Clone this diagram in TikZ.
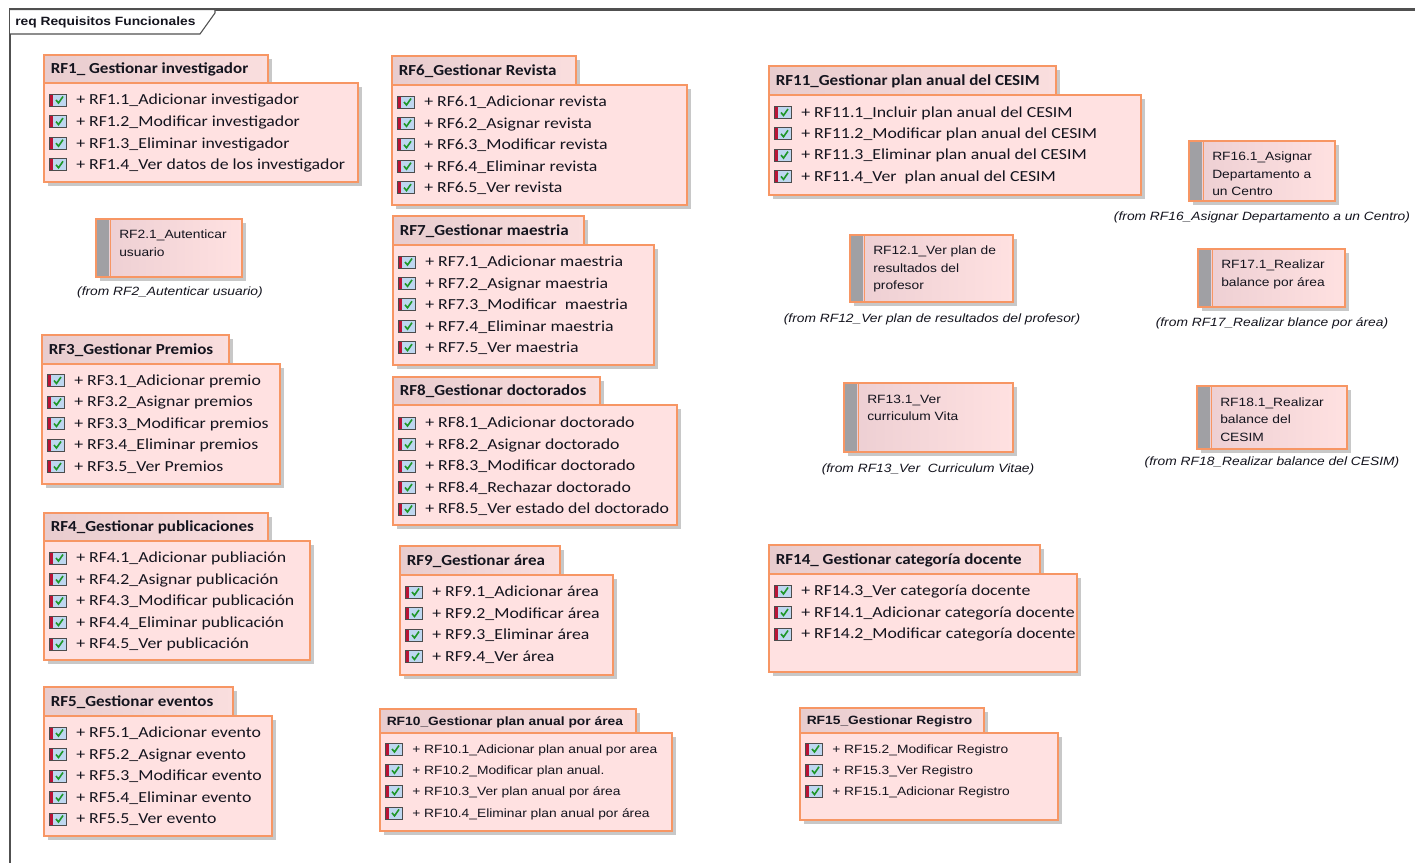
\documentclass[tikz,border=0pt]{standalone}
\usepackage{fontspec}
\newfontfamily\calr[FakeStretch=1.16]{Carlito}
\newfontfamily\calt[FakeStretch=1.11]{Carlito}
\newfontfamily\arir[FakeStretch=1.15]{Liberation Sans}

\definecolor{orng}{RGB}{247,150,100}
\definecolor{pinkbody}{RGB}{255,225,225}
\definecolor{tableft}{RGB}{232,204,206}
\definecolor{tabright}{RGB}{250,222,222}
\definecolor{elemleft}{RGB}{236,206,210}
\definecolor{shadowc}{RGB}{200,200,200}
\definecolor{barc}{RGB}{160,160,164}
\definecolor{txt}{RGB}{20,20,30}
\definecolor{framec}{RGB}{80,80,80}
\definecolor{chkblue}{RGB}{190,215,240}
\definecolor{chkred}{RGB}{185,20,55}
\definecolor{chkgreen}{RGB}{30,150,40}

\tikzset{
  x=0.75pt, y=-0.75pt,
  outline/.style={draw=orng, line width=1.3pt},
  ttlC/.style={font=\calt\bfseries\fontsize{11.5}{13}\selectfont, text=txt, inner sep=0pt, text height=7.3pt, text depth=0pt},
  ttlA/.style={font=\arir\bfseries\fontsize{9}{11}\selectfont, text=txt, inner sep=0pt, text height=6.45pt, text depth=0pt},
  itmC/.style={font=\calr\fontsize{11.5}{13}\selectfont, text=txt, inner sep=0pt, text height=7.3pt, text depth=0pt},
  itmA/.style={font=\arir\fontsize{9}{11}\selectfont, text=txt, inner sep=0pt, text height=6.45pt, text depth=0pt},
  eltxt/.style={font=\arir\fontsize{9}{11}\selectfont, text=txt, inner sep=0pt, anchor=base west},
  capt/.style={font=\arir\itshape\fontsize{9}{11}\selectfont, text=txt, inner sep=0pt},
}

% requirement check icon: x = left edge, y = vertical centre
\newcommand\ChkIcon[2]{%
  \fill[chkblue] (#1,#2-6) rectangle (#1+17,#2+6);
  \fill[chkred] (#1,#2-6) rectangle (#1+3.5,#2+6);
  \draw[black!70, line width=0.6pt] (#1,#2-6) rectangle (#1+17,#2+6);
  \draw[chkgreen, line width=1.2pt] (#1+7,#2) -- (#1+9.5,#2+3) -- (#1+14,#2-3.5);
}

% package: name, font kind, x1, tab top, tab right, body top, body right, body bottom, title
\newcommand\Pkg[9]{%
  \fill[shadowc] (#3+4,#4+4) rectangle (#5+4,#6+4);
  \fill[shadowc] (#3+4,#6+4) rectangle (#7+4,#8+4);
  \shade[left color=tableft, right color=tabright] (#3,#4) rectangle (#5,#6);
  \draw[outline] (#3,#4) rectangle (#5,#6);
  \node[ttl#2, anchor=west] (#1) at (#3+6.5,{(#4+#6)/2}) {#9};
  \fill[pinkbody] (#3,#6) rectangle (#7,#8);
  \draw[outline] (#3,#6) rectangle (#7,#8);
}

% package contents: name, font kind, x1, first row centre, row pitch, rows
\newcommand\Items[6]{%
  \foreach \entry [count=\k] in {#6} {
    \ChkIcon{#3+5}{#4+#5*\k-#5}
    \node[itm#2, anchor=west] (#1-\k) at (#3+32,#4+#5*\k-#5) {+ \entry};
  }
}

% requirement element: name, x1, y1, x2, y2, lines, caption x, caption y, caption
\newcommand\Elem[9]{%
  \fill[shadowc] (#2+4,#3+4) rectangle (#4+4,#5+4);
  \shade[left color=elemleft, right color=pinkbody] (#2,#3) rectangle (#4,#5);
  \fill[barc] (#2,#3) rectangle (#2+13,#5);
  \draw[orng, line width=1.3pt] (#2+14.5,#3) -- (#2+14.5,#5);
  \draw[outline] (#2,#3) rectangle (#4,#5);
  \foreach \ln [count=\k] in {#6} {
    \node[eltxt] (#1-\k) at (#2+23,#3+20+17.5*\k-17.5) {\ln};
  }
  \node[capt] (#1-cap) at (#7,#8) {#9};
}

\begin{document}
\begin{tikzpicture}
\useasboundingbox (0,0) rectangle (1415,863);
\fill[white] (0,0) rectangle (1415,863);

% diagram frame and its heading
\draw[framec, line width=1.6pt] (10,863) -- (10,9.5) -- (1415,9.5);
\draw[framec, fill=white, line width=0.8pt] (10,9.5) -- (215,9.5) -- (215,13) -- (200,34) -- (10,34);
\node[ttlA, anchor=west] (frame) at (15,21.5) {req Requisitos Funcionales};

% column 1
\Pkg{rf1}{C}{44}{55}{268}{83}{358}{182}{RF1\_ Gestionar investigador}
\Items{rf1}{C}{44}{100}{21.6}{RF1.1\_Adicionar investigador, RF1.2\_Modificar investigador, RF1.3\_Eliminar investigador, RF1.4\_Ver datos de los investigador}

\Elem{rf21}{96}{219}{242}{277}{RF2.1\_Autenticar, usuario}{170}{292}{(from RF2\_Autenticar usuario)}

\Pkg{rf3}{C}{42}{335}{229}{364}{280}{484}{RF3\_Gestionar Premios}
\Items{rf3}{C}{42}{380.5}{21.5}{RF3.1\_Adicionar premio, RF3.2\_Asignar premios, RF3.3\_Modificar premios, RF3.4\_Eliminar premios, RF3.5\_Ver Premios}

\Pkg{rf4}{C}{44}{513}{268}{541}{310}{660}{RF4\_Gestionar publicaciones}
\Items{rf4}{C}{44}{558}{21.5}{RF4.1\_Adicionar publiación, RF4.2\_Asignar publicación, RF4.3\_Modificar publicación, RF4.4\_Eliminar publicación, RF4.5\_Ver publicación}

\Pkg{rf5}{C}{44}{687}{233}{716}{272}{836}{RF5\_Gestionar eventos}
\Items{rf5}{C}{44}{733}{21.5}{RF5.1\_Adicionar evento, RF5.2\_Asignar evento, RF5.3\_Modificar evento, RF5.4\_Eliminar evento, RF5.5\_Ver evento}

% column 2
\Pkg{rf6}{C}{392}{56}{576}{85}{687}{205}{RF6\_Gestionar Revista}
\Items{rf6}{C}{392}{102}{21.4}{RF6.1\_Adicionar revista, RF6.2\_Asignar revista, RF6.3\_Modificar revista, RF6.4\_Eliminar revista, RF6.5\_Ver revista}

\Pkg{rf7}{C}{393}{216}{584}{245}{654}{365}{RF7\_Gestionar maestria}
\Items{rf7}{C}{393}{262}{21.4}{RF7.1\_Adicionar maestria, RF7.2\_Asignar maestria, RF7.3\_Modificar~ maestria, RF7.4\_Eliminar maestria, RF7.5\_Ver maestria}

\Pkg{rf8}{C}{393}{377}{600}{405}{677}{525}{RF8\_Gestionar doctorados}
\Items{rf8}{C}{393}{423}{21.5}{RF8.1\_Adicionar doctorado, RF8.2\_Asignar doctorado, RF8.3\_Modificar doctorado, RF8.4\_Rechazar doctorado, RF8.5\_Ver estado del doctorado}

\Pkg{rf9}{C}{400}{546}{560}{575}{613}{675}{RF9\_Gestionar área}
\Items{rf9}{C}{400}{592}{21.5}{RF9.1\_Adicionar área, RF9.2\_Modificar área, RF9.3\_Eliminar área, RF9.4\_Ver área}

\Pkg{rf10}{A}{380}{709}{636}{733}{672}{831}{RF10\_Gestionar plan anual por área}
\Items{rf10}{A}{380}{749}{21.3}{RF10.1\_Adicionar plan anual por area, RF10.2\_Modificar plan anual., RF10.3\_Ver plan anual por área, RF10.4\_Eliminar plan anual por área}

% column 3
\Pkg{rf11}{C}{769}{66}{1056}{95}{1141}{195}{RF11\_Gestionar plan anual del CESIM}
\Items{rf11}{C}{769}{112.5}{21.3}{RF11.1\_Incluir plan anual del CESIM, RF11.2\_Modificar plan anual del CESIM, RF11.3\_Eliminar plan anual del CESIM, RF11.4\_Ver~ plan anual del CESIM}

\Elem{rf121}{850}{235}{1013}{302}{RF12.1\_Ver plan de, resultados del, profesor}{932}{319}{(from RF12\_Ver plan de resultados del profesor)}

\Elem{rf131}{844}{383}{1013}{452}{RF13.1\_Ver, curriculum Vita}{928}{469}{(from RF13\_Ver~ Curriculum Vitae)}

\Pkg{rf14}{C}{769}{545}{1040}{574}{1077}{672}{RF14\_ Gestionar categoría docente}
\Items{rf14}{C}{769}{591}{21.5}{RF14.3\_Ver categoría docente, RF14.1\_Adicionar categoría docente, RF14.2\_Modificar categoría docente}

\Pkg{rf15}{A}{800}{708}{984}{733}{1058}{820}{RF15\_Gestionar Registro}
\Items{rf15}{A}{800}{749}{21.3}{RF15.2\_Modificar Registro, RF15.3\_Ver Registro, RF15.1\_Adicionar Registro}

% column 4
\Elem{rf161}{1189}{141}{1335}{201}{RF16.1\_Asignar, Departamento a, un Centro}{1262}{217}{(from RF16\_Asignar Departamento a un Centro)}

\Elem{rf171}{1198}{249}{1345}{307}{RF17.1\_Realizar, balance por área}{1272}{323}{(from RF17\_Realizar blance por área)}

\Elem{rf181}{1197}{386}{1347}{449}{RF18.1\_Realizar, balance del, CESIM}{1272}{462}{(from RF18\_Realizar balance del CESIM)}

\end{tikzpicture}
\end{document}
